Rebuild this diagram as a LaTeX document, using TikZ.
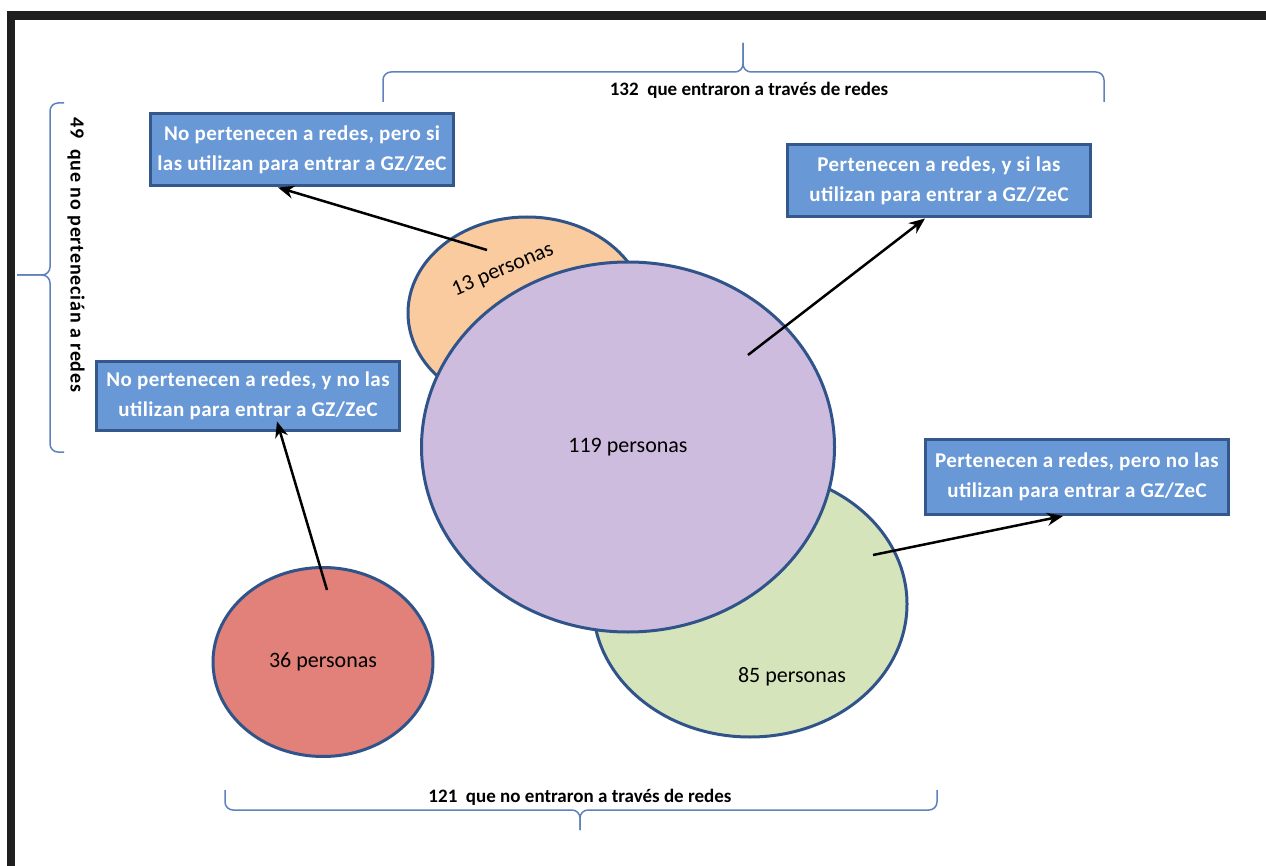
\documentclass[tikz,border=0pt]{standalone}
\usepackage{fontspec}
\setmainfont{Carlito}
\usepackage{xcolor}
\usepackage{tikz}
\usetikzlibrary{arrows.meta,shapes.geometric,calc}
\definecolor{boxblue}{RGB}{105,152,214}
\definecolor{boxedge}{RGB}{52,88,140}
\definecolor{ringblue}{RGB}{48,84,138}
\definecolor{bracecol}{RGB}{95,130,190}
\definecolor{peach}{RGB}{250,203,158}
\definecolor{lilac}{RGB}{205,188,222}
\definecolor{sage}{RGB}{214,228,188}
\definecolor{coral}{RGB}{226,128,122}

\begin{document}
\begin{tikzpicture}[x=1pt,y=-1pt,
  lbl/.style={fill=boxblue,draw=boxedge,line width=3pt,text=white,align=center,inner sep=0pt,
    minimum width=303pt,minimum height=72pt,font=\fontsize{21}{30}\selectfont\bfseries\addfontfeature{LetterSpace=2}},
  blob/.style={ellipse,draw=ringblue,line width=3pt,inner sep=0pt,font=\fontsize{22}{24}\selectfont},
  arr/.style={line width=2.5pt,-{Stealth[length=16pt,width=13pt]}},
  brace/.style={draw=bracecol,line width=1.5pt,rounded corners=8pt},
  btext/.style={font=\fontsize{19}{22}\selectfont\bfseries}]
\useasboundingbox (0,0) rectangle (1266,866);
\fill[white] (0,0) rectangle (1266,866);
% frame
\fill[black!88] (7,11) rectangle (1266,20);
\fill[black!88] (7,11) rectangle (15,866);

% groups
\node[blob,fill=peach,minimum width=238pt,minimum height=192pt] (e13) at (527,313) {};
\node[blob,fill=sage,minimum width=314pt,minimum height=266pt] (e85) at (750,604) {};
\node[blob,fill=lilac,minimum width=413pt,minimum height=370pt] (e119) at (628,447) {119 personas};
\node[blob,fill=coral,minimum width=220pt,minimum height=189pt] (e36) at (323,662) {36 personas};
\node[font=\fontsize{22}{24}\selectfont,rotate=23] (t13) at (503,270) {13 personas};
\node[font=\fontsize{22}{24}\selectfont] (t85) at (792,677) {85 personas};

% labels
\node[lbl] (b1) at (302,150) {No pertenecen a redes, pero si\\las utilizan para entrar a GZ/ZeC};
\node[lbl] (b2) at (939,181) {Pertenecen a redes, y si las\\utilizan para entrar a GZ/ZeC};
\node[lbl,minimum height=68pt] (b3) at (248,396) {No pertenecen a redes, y no las\\utilizan para entrar a GZ/ZeC};
\node[lbl,minimum height=75pt] (b4) at (1077,477) {Pertenecen a redes, pero no las\\utilizan para entrar a GZ/ZeC};

\coordinate (p13) at (487,250);
\coordinate (p119) at (748,355);
\coordinate (p36) at (327,590);
\coordinate (p85) at (873,555);
\draw[arr] (p13) -- ($(b1.south)+(-24,0)$);
\draw[arr] (p119) -- ($(b2.south)+(-14,0)$);
\draw[arr] (p36) -- ($(b3.south)+(29,-10)$);
\draw[arr] (p85) -- ($(b4.south)+(-14,0)$);

% braces
\draw[brace] (383,102) |- (743,72) -- (743,43);
\draw[brace] (1104,102) |- (743,72) -- (743,43);
\node[btext] (n132) at (749,90) {132\ \ que entraron a través de redes};
\draw[brace] (64,103) -| (50,275) -- (17,275);
\draw[brace] (64,452) -| (50,275) -- (17,275);
\node[btext,rotate=-90,font=\fontsize{20}{22}\selectfont\bfseries\addfontfeature{LetterSpace=4}] (n49) at (76,255) {49\ \ que no pertenecián a redes};
\draw[brace] (225,790) |- (580,810) -- (580,830);
\draw[brace] (937,790) |- (580,810) -- (580,830);
\node[btext] (n121) at (580,797) {121\ \ que no entraron a través de redes};
\end{tikzpicture}
\end{document}
